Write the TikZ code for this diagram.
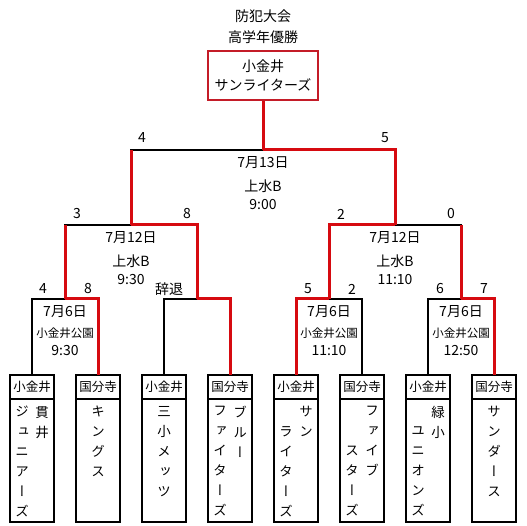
\documentclass[tikz,border=0pt]{standalone}
\usepackage{fontspec}
\setmainfont{Noto Sans CJK JP}
\newfontfamily\tatefont[RawFeature=+vert]{Noto Sans CJK JP}
\usetikzlibrary{positioning, calc}
\definecolor{winred}{RGB}{214, 10, 16}
\definecolor{boxred}{RGB}{196, 28, 40}

\tikzset{
  win/.style={draw=winred, line width=3pt},
  lose/.style={draw=black, line width=2pt},
  champbox/.style={draw=boxred, line width=2.4pt, minimum width=110pt, minimum height=49pt,
                   inner sep=0pt, align=center},
  teamhead/.style={draw, line width=2pt, minimum width=44pt, minimum height=24pt,
                   inner sep=0pt, outer sep=0pt, font=\fontsize{12.5}{14}\selectfont},
  teambody/.style={draw, line width=2pt, minimum width=44pt, minimum height=123pt,
                   inner sep=0pt, outer sep=0pt},
  tate/.style={font=\tatefont\fontsize{13.5}{20}\selectfont, align=center, inner sep=0pt, anchor=north},
  score/.style={inner sep=0pt},
  info/.style={inner sep=0pt},
  venue/.style={inner sep=0pt, font=\fontsize{11.5}{13}\selectfont}
}

\begin{document}
\begin{tikzpicture}[x=1pt, y=-1pt, font=\fontsize{14}{19}\selectfont]
\useasboundingbox (0,0) rectangle (527,526);

% title and champion
\node[align=center] (title) at (263,27) {防犯大会\\[2pt]高学年優勝};
\node[champbox] (champ) at (263,75.5) {小金井\\[0.5pt]サンライターズ};

% team boxes
\foreach \club [count=\i] in {小金井,国分寺,小金井,国分寺,小金井,国分寺,小金井,国分寺} {
  \node[teamhead] (h\i) at ({32+66*(\i-1)},387) {\club};
  \node[teambody, below=0pt of h\i] (b\i) {};
}

% team names, written top to bottom
\node[tate] (n1r) at ($(b1.north)+(10,7)$) {貫\\井};
\node[tate] (n1l) at ($(b1.north)+(-10,7)$) {ジ\\ュ\\ニ\\ア\\ー\\ズ};
\node[tate] (n2) at ($(b2.north)+(0,7)$) {キ\\ン\\グ\\ス};
\node[tate] (n3) at ($(b3.north)+(0,7)$) {三\\小\\メ\\ッ\\ツ};
\node[tate] (n4r) at ($(b4.north)+(10,7)$) {ブ\\ル\\ー};
\node[tate] (n4l) at ($(b4.north)+(-10,7)$) {フ\\ァ\\イ\\タ\\ー\\ズ};
\node[tate] (n5r) at ($(b5.north)+(10,7)$) {サ\\ン};
\node[tate] (n5l) at ($(b5.north)+(-10,27)$) {ラ\\イ\\タ\\ー\\ズ};
\node[tate] (n6r) at ($(b6.north)+(10,7)$) {フ\\ァ\\イ\\ブ};
\node[tate] (n6l) at ($(b6.north)+(-10,47)$) {ス\\タ\\ー\\ズ};
\node[tate] (n7r) at ($(b7.north)+(10,7)$) {緑\\小};
\node[tate] (n7l) at ($(b7.north)+(-10,27)$) {ユ\\ニ\\オ\\ン\\ズ};
\node[tate] (n8) at ($(b8.north)+(0,7)$) {サ\\ン\\ダ\\ー\\ス};

% bracket joints
\coordinate (m1) at ($(h1.north)!0.5!(h2.north)+(0,-76)$);
\coordinate (m2) at ($(h3.north)!0.5!(h4.north)+(0,-76)$);
\coordinate (m3) at ($(h5.north)!0.5!(h6.north)+(0,-76)$);
\coordinate (m4) at ($(h7.north)!0.5!(h8.north)+(0,-76)$);
\coordinate (s1) at ($(m1)!0.5!(m2)+(0,-74)$);
\coordinate (s2) at ($(m3)!0.5!(m4)+(0,-74)$);
\coordinate (f) at ($(s1)!0.5!(s2)+(0,-75)$);

% losers first, winners on top
\draw[lose] (h1.north) |- (m1);
\draw[lose] (h3.north) |- (m2);
\draw[lose] (h6.north) |- (m3);
\draw[lose] (h7.north) |- (m4);
\draw[lose] (m1) |- (s1);
\draw[lose] (m4) |- (s2);
\draw[lose] (s1) |- (f);
\draw[win] (h2.north) |- (m1);
\draw[win] (h4.north) |- (m2);
\draw[win] (h5.north) |- (m3);
\draw[win] (h8.north) |- (m4);
\draw[win] (m2) |- (s1);
\draw[win] (m3) |- (s2);
\draw[win] (m1) -- (m1 |- s1);
\draw[win] (m4) -- (m4 |- s2);
\draw[win] (s2) |- (f);
\draw[win] (s1) -- (s1 |- f);
\draw[win] (f) -- (champ.south);

% scores
\node[score] (sc1) at ($(h1.north |- m1)+(11,-10)$) {4};
\node[score] (sc2) at ($(h2.north |- m1)+(-10,-10)$) {8};
\node[score] (sc3) at ($(h3.north |- m2)+(5,-10)$) {辞退};
\node[score] (sc5) at ($(h5.north |- m3)+(12,-10)$) {5};
\node[score] (sc6) at ($(h6.north |- m3)+(-10,-10)$) {2};
\node[score] (sc7) at ($(h7.north |- m4)+(12,-10)$) {6};
\node[score] (sc8) at ($(h8.north |- m4)+(-10,-10)$) {7};
\node[score] (ss1) at ($(m1 |- s1)+(12,-11)$) {3};
\node[score] (ss2) at ($(m2 |- s1)+(-10,-11)$) {8};
\node[score] (ss3) at ($(m3 |- s2)+(12,-11)$) {2};
\node[score] (ss4) at ($(m4 |- s2)+(-10,-11)$) {0};
\node[score] (sf1) at ($(s1 |- f)+(11,-12)$) {4};
\node[score] (sf2) at ($(s2 |- f)+(-10,-12)$) {5};

% match dates, grounds and times
\foreach \c/\d/\t in {f/7月13日/9:00, s1/7月12日/9:30, s2/7月12日/11:10} {
  \node[info] (\c-date) at ($(\c)+(0,12.5)$) {\d};
  \node[info] (\c-venue) at ($(\c)+(0,36)$) {上水B};
  \node[info] (\c-time) at ($(\c)+(0,55)$) {\t};
}
\foreach \c/\t in {m1/9:30, m3/11:10, m4/12:50} {
  \node[info] (\c-date) at ($(\c)+(0,13)$) {7月6日};
  \node[venue] (\c-venue) at ($(\c)+(0,34)$) {小金井公園};
  \node[info] (\c-time) at ($(\c)+(0,52)$) {\t};
}
\end{tikzpicture}
\end{document}
